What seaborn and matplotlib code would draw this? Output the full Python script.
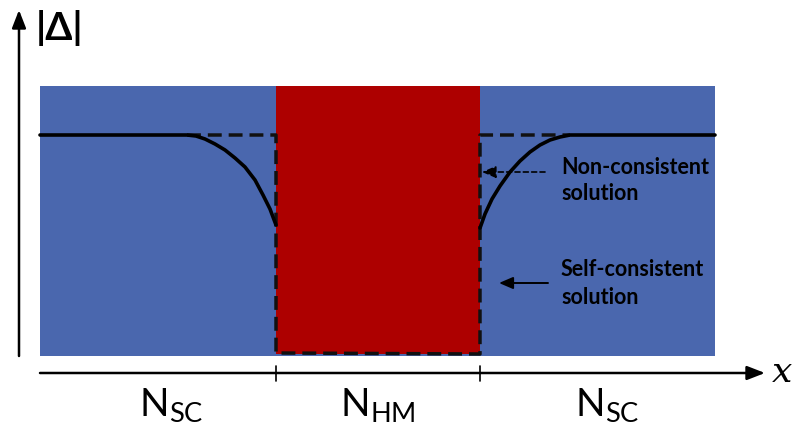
import matplotlib
matplotlib.use("Agg")
import matplotlib.pyplot as plt
import seaborn as sns
import pandas as pd

sns.set_theme(style="white")
plt.rcParams['font.family'] = ['Lato', 'DejaVu Sans']
plt.rcParams['text.color'] = 'black'
plt.rcParams['mathtext.fontset'] = 'custom'
plt.rcParams['mathtext.rm'] = 'Lato'
plt.rcParams['mathtext.it'] = 'DejaVu Serif:italic'

# profile of |Delta| along x (picture units, y grows downwards)
sc_x = [40, 187, 196, 205, 215, 225, 235, 245, 255, 263, 270, 276]
sc_y = [135, 135, 136, 139, 144, 150, 158, 167, 180, 195, 209, 225]
sc_right_x = [480, 485, 492, 500, 510, 520, 530, 540, 550, 560, 570, 715]
sc_right_y = [228, 214, 199, 186, 172, 161, 152, 145, 140, 137, 135, 135]
nc_x = [187, 276, 276, 480, 480, 570]
nc_y = [135, 135, 353, 354, 135, 135]

regions = ["N$_{\\rm SC}$", "N$_{\\rm HM}$", "N$_{\\rm SC}$"]
region_label_x = [171, 378, 607]
region_edges = [40, 276, 480, 715]

BLUE = "#4A67AE"
RED = "#AD0000"

fig = plt.figure(figsize=(7.92, 4.32), dpi=100)
ax = fig.add_axes([0, 0, 1, 1])

# background blocks
ax.add_patch(plt.Rectangle((region_edges[0], 86), region_edges[3] - region_edges[0], 270,
                           color=BLUE, lw=0, zorder=1))
ax.add_patch(plt.Rectangle((region_edges[1], 86), region_edges[2] - region_edges[1], 268,
                           color=RED, lw=0, zorder=2))

# non-consistent (dashed) and self-consistent (solid)
df_nc = pd.DataFrame({"x": nc_x, "y": nc_y})
sns.lineplot(data=df_nc, x="x", y="y", sort=False, estimator=None, ax=ax,
             color="#111111", lw=2.5, zorder=4)
ax.lines[-1].set_dashes([4, 2])
df_l = pd.DataFrame({"x": sc_x, "y": sc_y})
df_r = pd.DataFrame({"x": sc_right_x, "y": sc_right_y})
sns.lineplot(data=df_l, x="x", y="y", sort=False, estimator=None, ax=ax,
             color="black", lw=2.6, zorder=5)
sns.lineplot(data=df_r, x="x", y="y", sort=False, estimator=None, ax=ax,
             color="black", lw=2.6, zorder=5)
ax.set_xlim(0, 792)
ax.set_ylim(432, 0)
ax.axis("off")

# axes arrows
ax.annotate("", xy=(19, 10), xytext=(19, 356),
            arrowprops=dict(arrowstyle="-|>,head_length=0.9,head_width=0.35",
                            color="black", lw=1.8, shrinkA=0, shrinkB=0))
ax.annotate("", xy=(765, 373), xytext=(40, 373),
            arrowprops=dict(arrowstyle="-|>,head_length=0.9,head_width=0.35",
                            color="black", lw=1.8, shrinkA=0, shrinkB=0))
for xe in region_edges[1:3]:
    ax.plot([xe, xe], [366, 381], color="black", lw=1.2)

ax.text(60, 28, "|Δ|", fontsize=28, ha="center", va="center", fontweight="bold",
        family=['Lato', 'DejaVu Sans'])
ax.text(782, 371, "$x$", fontsize=26, ha="center", va="center")

for lab, xc in zip(regions, region_label_x):
    ax.text(xc, 405, lab, fontsize=28, ha="center", va="center")

# annotations
ax.annotate("", xy=(482, 172), xytext=(545, 172),
            arrowprops=dict(arrowstyle="-|>,head_length=0.7,head_width=0.3",
                            color="black", lw=1.2, ls=(0, (3, 2)), shrinkA=0, shrinkB=0))
ax.annotate("", xy=(499, 283), xytext=(548, 283),
            arrowprops=dict(arrowstyle="-|>,head_length=0.7,head_width=0.3",
                            color="black", lw=1.4, shrinkA=0, shrinkB=0))
ax.text(561, 167, "Non-consistent", fontsize=15.5, fontweight="bold", va="center", ha="left")
ax.text(561, 193, "solution", fontsize=15.5, fontweight="bold", va="center", ha="left")
ax.text(561, 270, "Self-consistent", fontsize=15.5, fontweight="bold", va="center", ha="left")
ax.text(561, 297, "solution", fontsize=15.5, fontweight="bold", va="center", ha="left")

fig.savefig("out.png", dpi=100)
